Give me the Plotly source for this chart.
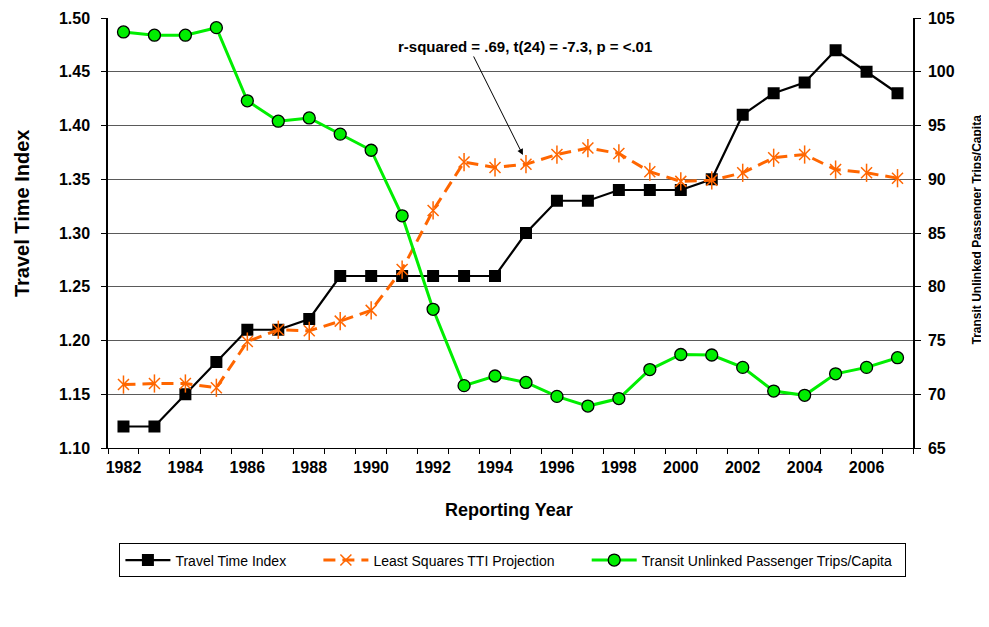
import plotly.graph_objects as go

years = list(range(1982, 2008))
tti = [1.12, 1.12, 1.15, 1.18, 1.21, 1.21, 1.22, 1.26, 1.26, 1.26, 1.26, 1.26, 1.26,
       1.30, 1.33, 1.33, 1.34, 1.34, 1.34, 1.35, 1.41, 1.43, 1.44, 1.47, 1.45, 1.43]
ls_proj = [1.159, 1.160, 1.160, 1.156, 1.199, 1.210, 1.209, 1.218, 1.228, 1.266, 1.321,
           1.366, 1.361, 1.364, 1.373, 1.379, 1.374, 1.357, 1.348, 1.349, 1.356, 1.370,
           1.373, 1.359, 1.356, 1.351]
transit = [103.7, 103.4, 103.4, 104.1, 97.3, 95.4, 95.7, 94.2, 92.7, 86.6, 77.9, 70.8,
           71.7, 71.1, 69.8, 68.9, 69.6, 72.3, 73.7, 73.65, 72.5, 70.3, 69.9, 71.9, 72.5, 73.4]
left_ticks = [1.10, 1.15, 1.20, 1.25, 1.30, 1.35, 1.40, 1.45, 1.50]
right_ticks = [65, 70, 75, 80, 85, 90, 95, 100, 105]
year_ticks = list(range(1982, 2008, 2))
series_names = ["Travel Time Index", "Least Squares TTI Projection",
                "Transit Unlinked Passenger Trips/Capita"]

FONT = "Liberation Sans, Arial, sans-serif"
ORANGE = "#FF6600"
GREEN = "#00EE00"
NB = "\u00a0"
TICKFONT = dict(size=16, family=FONT, weight="bold", color="black")

fig = go.Figure()

fig.add_trace(go.Scatter(
    x=years, y=tti, name=series_names[0] + NB * 7, mode="lines+markers",
    line=dict(color="black", width=2.2),
    marker=dict(symbol="square", size=12, color="black"),
))
fig.add_trace(go.Scatter(
    x=years, y=ls_proj, name=series_names[1] + NB * 7, mode="lines+markers",
    line=dict(color=ORANGE, width=3, dash="12px,7px"),
    marker=dict(symbol="x-thin-open", size=11, color=ORANGE, line=dict(color=ORANGE, width=1.5)),
))
fig.add_trace(go.Scatter(
    x=years, y=ls_proj, mode="markers", showlegend=False, hoverinfo="skip",
    marker=dict(symbol="line-ns-open", size=13, color=ORANGE, line=dict(color=ORANGE, width=1.5)),
))
fig.add_trace(go.Scatter(
    x=years, y=transit, name=series_names[2] + NB * 2, mode="lines+markers",
    yaxis="y2",
    line=dict(color=GREEN, width=3),
    marker=dict(symbol="circle", size=12, color=GREEN, line=dict(color="black", width=1.3)),
))

# page body has an 8px margin, so the figure is shrunk and margins shifted by 8px
fig.update_layout(
    width=981, height=600,
    margin=dict(l=100, r=75.5, t=10, b=160, pad=0, autoexpand=False),
    paper_bgcolor="white", plot_bgcolor="white",
    font=dict(family=FONT, color="black"),
    xaxis=dict(
        range=[1981.5, 2007.5], tickvals=year_ticks, ticks="", showgrid=False,
        tickfont=TICKFONT, automargin=False, ticklabelstandoff=5,
        showline=True, linecolor="black", linewidth=1,
        minor=dict(ticks="outside", tick0=1981.5, dtick=1, ticklen=5, tickcolor="black", showgrid=False),
        zeroline=False,
    ),
    yaxis=dict(
        range=[1.10, 1.50], tickvals=left_ticks, tickformat=".2f",
        tickfont=TICKFONT, automargin=False, ticklabelstandoff=8,
        ticks="outside", ticklen=5, tickcolor="black",
        showgrid=True, gridcolor="#5a5a5a", gridwidth=1,
        showline=True, linecolor="black", linewidth=1.5,
        zeroline=False,
    ),
    yaxis2=dict(
        range=[65, 105], tickvals=right_ticks, overlaying="y", side="right",
        tickfont=TICKFONT, automargin=False, ticklabelstandoff=4,
        ticks="outside", ticklen=6, tickcolor="black",
        showgrid=False, showline=True, linecolor="black", linewidth=1.5,
        zeroline=False,
    ),
    legend=dict(
        orientation="h", x=0.503, xanchor="center", y=-0.222, yanchor="top",
        bordercolor="black", borderwidth=1, font=dict(size=14, family=FONT),
        itemwidth=45, tracegroupgap=0,
    ),
    showlegend=True,
)

# axis titles
fig.add_annotation(x=-0.1068, y=0.5465, xref="paper", yref="paper", showarrow=False,
                   xanchor="center", yanchor="middle",
                   text="<b>Transit</b>" if False else "<b>Travel Time Index</b>", textangle=-90,
                   font=dict(size=20, family=FONT, color="black"))
fig.add_annotation(x=0.4978, y=-0.1442, xref="paper", yref="paper", showarrow=False,
                   xanchor="center", yanchor="middle",
                   text="<b>Reporting Year</b>",
                   font=dict(size=18, family=FONT, color="black"))
fig.add_annotation(x=1.0800, y=0.509, xref="paper", yref="paper", showarrow=False,
                   xanchor="center", yanchor="middle",
                   text="<b>Transit Unlinked Passenger Trips/Capita</b>", textangle=-90,
                   font=dict(size=12, family=FONT, color="black"))

fig.add_annotation(
    x=0.5177, y=0.9326, xref="paper", yref="paper", showarrow=False,
    xanchor="center", yanchor="middle",
    text="<b>r-squared = .69, t(24) = -7.3, p = <.01</b>",
    font=dict(size=15, family=FONT, color="black"),
)
fig.add_annotation(
    x=1994.9, y=1.3726, xref="x", yref="y", text="", showarrow=True,
    ax=-50, ay=-100, arrowhead=2, arrowsize=1.2, arrowwidth=1, arrowcolor="black",
)

fig.write_html("out.html")
